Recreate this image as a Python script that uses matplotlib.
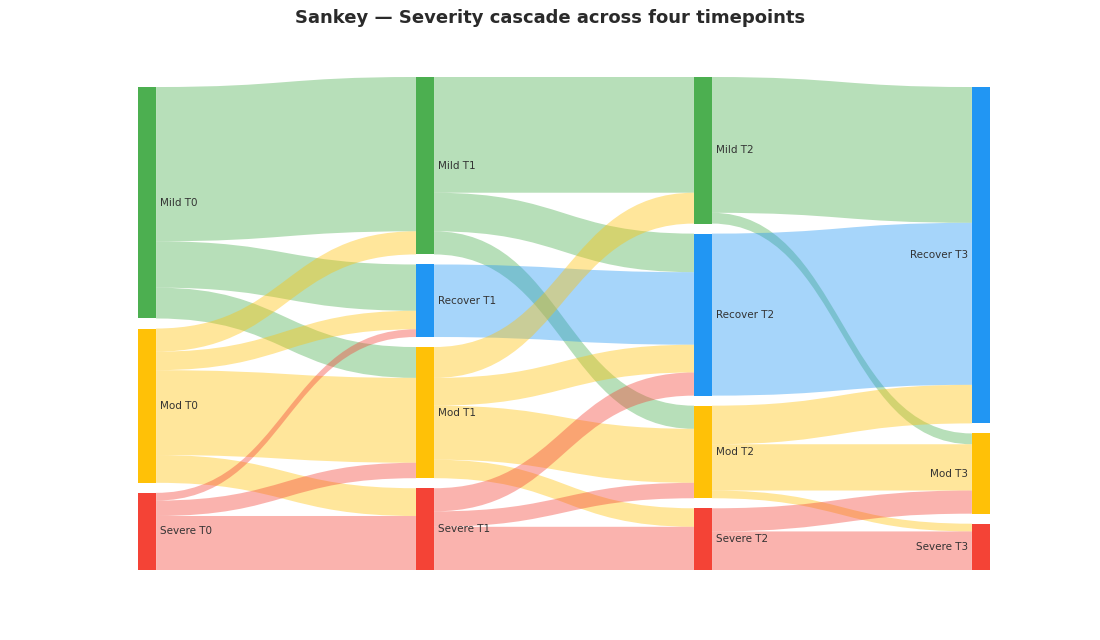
import numpy as np
import matplotlib.pyplot as plt
from matplotlib.path import Path
from matplotlib.patches import PathPatch, Rectangle

# nodes in each timepoint, top to bottom
node_labels = ['Mild T0', 'Mod T0', 'Severe T0',
               'Mild T1', 'Recover T1', 'Mod T1', 'Severe T1',
               'Mild T2', 'Recover T2', 'Mod T2', 'Severe T2',
               'Recover T3', 'Mod T3', 'Severe T3']
node_column = [0, 0, 0, 1, 1, 1, 1, 2, 2, 2, 2, 3, 3, 3]

# links (source index, target index, value)
sources = [0, 0, 0, 1, 1, 1, 1, 2, 2, 2,
           3, 3, 3, 4, 5, 5, 5, 5, 6, 6, 6,
           7, 7, 8, 9, 9, 9, 10, 10]
targets = [3, 4, 5, 3, 4, 5, 6, 4, 5, 6,
           7, 8, 9, 8, 7, 8, 9, 10, 8, 9, 10,
           11, 12, 11, 11, 12, 13, 12, 13]
values = [100, 30, 20, 15, 12, 55, 18, 5, 10, 35,
          75, 25, 15, 47, 20, 18, 35, 12, 15, 10, 28,
          88, 7, 105, 25, 30, 5, 15, 25]

state_colors = {'Mild': '#4CAF50', 'Recover': '#2196F3',
                'Mod': '#FFC107', 'Severe': '#F44336'}

node_w = 0.065     # node thickness, in column units
pad = 6.5          # gap between nodes, in flow units
link_alpha = 0.4

n = len(node_labels)
inflow = np.zeros(n)
outflow = np.zeros(n)
for s, t, v in zip(sources, targets, values):
    outflow[s] += v
    inflow[t] += v
node_val = np.maximum(inflow, outflow)

# stack nodes per column, aligned to the bottom
ncol = max(node_column) + 1
col_tot = [sum(node_val[i] for i in range(n) if node_column[i] == c)
           + pad * (sum(1 for i in range(n) if node_column[i] == c) - 1)
           for c in range(ncol)]
ymax = max(col_tot)
node_top = np.zeros(n)
for c in range(ncol):
    y = ymax - col_tot[c]
    for i in range(n):
        if node_column[i] == c:
            node_top[i] = y
            y += node_val[i] + pad

fig = plt.figure(figsize=(11, 6.4), dpi=100)
ax = fig.add_axes([138 / 1100, 1 - 570 / 640, 852 / 1100, 493 / 640])
ax.set_xlim(0, ncol - 1 + node_w)
ax.set_ylim(ymax, 0)
ax.axis('off')

# link offsets at both ends
order = list(range(len(values)))
src_off = {}
tgt_off = {}
for i in range(n):
    outs = sorted([k for k in order if sources[k] == i], key=lambda k: node_top[targets[k]])
    y = node_top[i]
    for k in outs:
        src_off[k] = y
        y += values[k]
    ins = sorted([k for k in order if targets[k] == i], key=lambda k: node_top[sources[k]])
    y = node_top[i]
    for k in ins:
        tgt_off[k] = y
        y += values[k]

for k in order:
    s, t, v = sources[k], targets[k], values[k]
    x0 = node_column[s] + node_w
    x1 = node_column[t]
    xm = (x0 + x1) / 2
    y0, y1 = src_off[k], tgt_off[k]
    verts = [(x0, y0), (xm, y0), (xm, y1), (x1, y1),
             (x1, y1 + v), (xm, y1 + v), (xm, y0 + v), (x0, y0 + v), (x0, y0)]
    codes = [Path.MOVETO, Path.CURVE4, Path.CURVE4, Path.CURVE4,
             Path.LINETO, Path.CURVE4, Path.CURVE4, Path.CURVE4, Path.CLOSEPOLY]
    col = state_colors[node_labels[s].split()[0]]
    ax.add_patch(PathPatch(Path(verts, codes), facecolor=col, edgecolor='none',
                           alpha=link_alpha))

for i in range(n):
    col = state_colors[node_labels[i].split()[0]]
    c = node_column[i]
    ax.add_patch(Rectangle((c, node_top[i]), node_w, node_val[i],
                           facecolor=col, edgecolor='none'))
    ymid = node_top[i] + node_val[i] / 2
    if c < ncol - 1:
        ax.annotate(node_labels[i], (c + node_w, ymid), xytext=(3, 0),
                    textcoords='offset points', ha='left', va='center',
                    fontsize=7.5, color='#333333')
    else:
        ax.annotate(node_labels[i], (c, ymid), xytext=(-3, 0),
                    textcoords='offset points', ha='right', va='center',
                    fontsize=7.5, color='#333333')

fig.text(0.5, 1 - 18 / 640, 'Sankey \u2014 Severity cascade across four timepoints',
         ha='center', va='center', fontsize=13, fontweight='bold', color='#2a2a2a')

plt.savefig('out.png', dpi=100)
